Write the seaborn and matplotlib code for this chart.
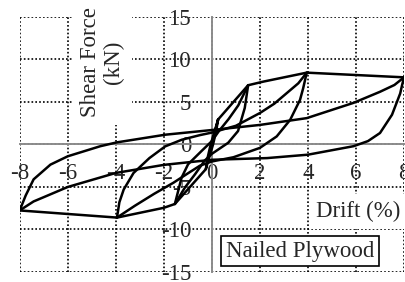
import pandas as pd
import matplotlib
matplotlib.use("Agg")
import matplotlib.pyplot as plt
import seaborn as sns

# hysteresis branches: drift (%) and shear force (kN)
small_drift = [0.0, 0.26, 0.12, -0.05, -0.18, -0.25, -0.12, 0.05, 0.18, 0.26]
small_force = [0.0, 2.94, 1.6, 0.0, -1.6, -2.9, -1.6, 0.0, 1.6, 2.94]

env_pos_drift = [0.26, 1.51, 2.15, 3.95, 8.0]
env_pos_force = [2.94, 6.97, 7.4, 8.45, 7.9]
env_neg_drift = [-0.25, -1.54, -2.0, -3.95, -8.0]
env_neg_force = [-2.9, -7.0, -7.45, -8.6, -7.76]

unl15_drift = [1.51, 1.37, 1.09, 0.68, 0.0, -0.3, -0.7, -1.12, -1.54]
unl15_force = [6.97, 4.3, 1.58, 0.2, -1.1, -1.9, -3.5, -5.06, -7.0]
rel15_drift = [-1.54, -1.26, -0.99, -0.43, 0.0, 0.3, 0.7, 1.1, 1.51]
rel15_force = [-7.0, -3.9, -2.33, -0.77, 0.4, 1.6, 3.0, 4.6, 6.97]

unl4_drift = [3.95, 3.8, 3.67, 3.26, 2.7, 2.0, 0.9, 0.0, -0.5, -1.0, -1.6, -2.4, -3.2, -3.95]
unl4_force = [8.45, 6.6, 5.25, 2.9, 0.95, -0.4, -1.5, -2.0, -2.5, -3.4, -4.5, -5.8, -7.2, -8.6]
rel4_drift = [-3.95, -3.85, -3.67, -3.26, -2.6, -1.94, -1.25, -0.5, 0.0, 1.0, 2.0, 2.6, 3.1, 3.6, 3.95]
rel4_force = [-8.6, -6.8, -5.3, -3.35, -1.6, -0.22, 0.56, 1.1, 1.4, 2.2, 3.7, 4.8, 6.0, 7.2, 8.45]

unl8_drift = [8.0, 7.92, 7.84, 7.5, 7.0, 6.5, 5.9, 4.0, 2.3, 0.0, -2.0, -4.0, -6.0, -7.0, -7.42, -8.0]
unl8_force = [7.9, 7.0, 6.0, 3.5, 1.35, 0.4, -0.2, -1.2, -1.6, -1.8, -2.4, -3.35, -5.0, -6.2, -6.7, -7.76]
rel8_drift = [-8.0, -7.75, -7.42, -6.72, -6.0, -4.64, -3.95, -1.94, 0.0, 2.0, 3.95, 5.9, 7.0, 7.6, 8.0]
rel8_force = [-7.76, -6.0, -4.1, -2.37, -1.39, -0.2, 0.25, 1.15, 1.7, 2.3, 3.1, 4.9, 6.2, 7.0, 7.9]

x_ticks = [-8, -6, -4, -2, 0, 2, 4, 6, 8]
y_ticks = [-15, -10, -5, 0, 5, 10, 15]

branches = {
    "small": (small_drift, small_force),
    "env_pos": (env_pos_drift, env_pos_force),
    "env_neg": (env_neg_drift, env_neg_force),
    "unl15": (unl15_drift, unl15_force),
    "rel15": (rel15_drift, rel15_force),
    "unl4": (unl4_drift, unl4_force),
    "rel4": (rel4_drift, rel4_force),
    "unl8": (unl8_drift, unl8_force),
    "rel8": (rel8_drift, rel8_force),
}
df = pd.concat([pd.DataFrame({"drift": d, "force": f, "branch": k})
                for k, (d, f) in branches.items()], ignore_index=True)

sns.set_style("white")
plt.rcParams["font.family"] = ["Liberation Serif", "DejaVu Serif"]
plt.rcParams["axes.unicode_minus"] = False

fig = plt.figure(figsize=(4.05, 2.82), dpi=100)
ax = fig.add_axes([0.0486, 0.0355, 0.949, 0.9043])

sns.lineplot(data=df, x="drift", y="force", units="branch", estimator=None,
             sort=False, color="black", lw=1.8, ax=ax, zorder=3)

ax.set_xlim(-8, 8)
ax.set_ylim(-15, 15)
ax.set_xticks(x_ticks)
ax.set_yticks(y_ticks)
ax.set_xticklabels([str(t) for t in x_ticks])
ax.set_yticklabels([str(t) for t in y_ticks])
ax.set_xlabel("")
ax.set_ylabel("")

ax.spines["left"].set_position(("data", 0))
ax.spines["bottom"].set_position(("data", 0))
for s in ["left", "bottom"]:
    ax.spines[s].set_color("#8c8c8c")
    ax.spines[s].set_linewidth(1.4)
for s in ["top", "right"]:
    ax.spines[s].set_visible(False)

ax.tick_params(axis="x", length=0, pad=13, labelsize=16.5)
ax.tick_params(axis="y", length=0, pad=15, labelsize=16.5)
ax.grid(True, linestyle=(0, (1, 1.3)), color="black", linewidth=1.2)
ax.set_axisbelow(True)

ax.text(-4.58, 9.7, "Shear Force\n(kN)", rotation=90, ha="center", va="center",
        fontsize=16.5, linespacing=1.15, zorder=5,
        bbox=dict(facecolor="white", edgecolor="none", boxstyle="square,pad=0.35"))
ax.text(6.08, -7.88, "Drift (%)", ha="center", va="center", fontsize=16.5, zorder=5,
        bbox=dict(facecolor="white", edgecolor="none", boxstyle="square,pad=0.3"))
ax.text(3.67, -12.57, "Nailed Plywood", ha="center", va="center", fontsize=16.5, zorder=5,
        bbox=dict(facecolor="white", edgecolor="black", linewidth=1.2,
                  boxstyle="square,pad=0.2"))

fig.savefig("out.png", dpi=100)
